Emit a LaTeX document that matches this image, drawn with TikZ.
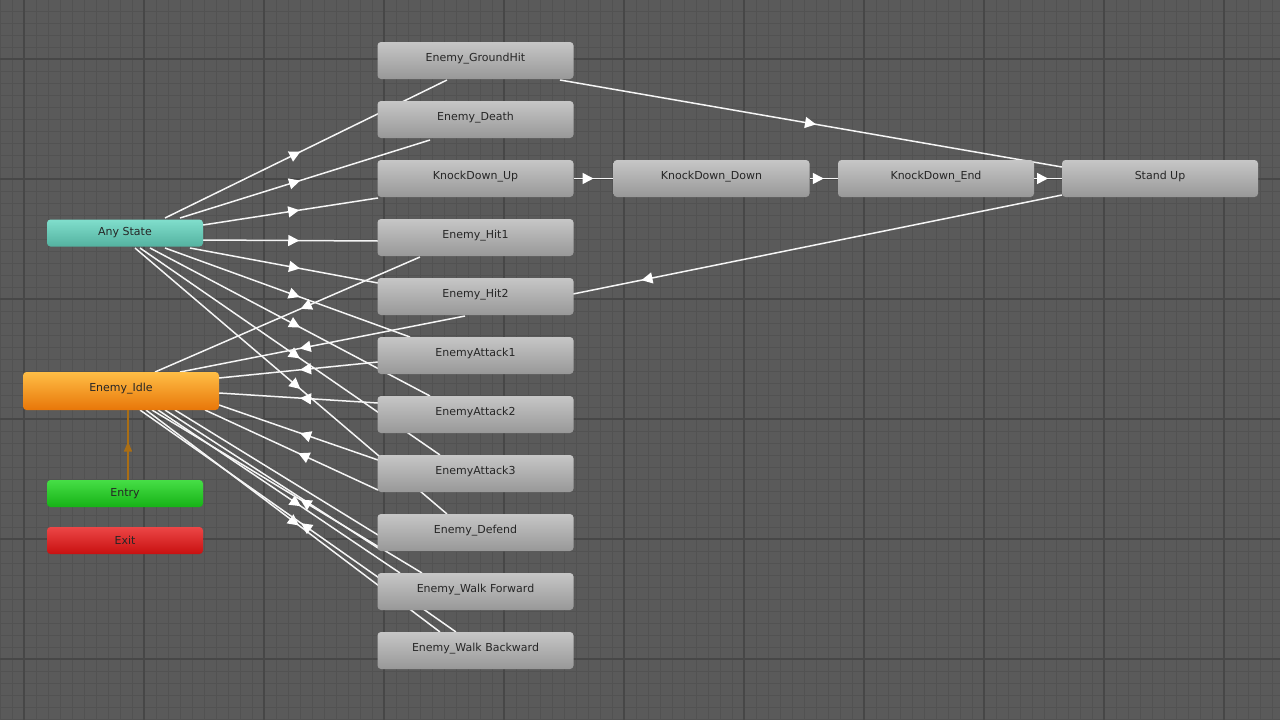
\documentclass[tikz,border=0pt]{standalone}
\usepackage{fontspec}
\setmainfont{DejaVu Sans}
\usetikzlibrary{arrows.meta,decorations.markings}
\definecolor{bg}{HTML}{5A5A5A}
\definecolor{minor}{HTML}{525252}
\definecolor{major}{HTML}{474747}
\definecolor{gtop}{HTML}{C6C6C6}
\definecolor{gbot}{HTML}{989898}
\definecolor{atop}{HTML}{80DECC}
\definecolor{abot}{HTML}{54B2A0}
\definecolor{itop}{HTML}{FFBE46}
\definecolor{ibot}{HTML}{E87608}
\definecolor{etop}{HTML}{46DE46}
\definecolor{ebot}{HTML}{16B216}
\definecolor{xtop}{HTML}{EC4646}
\definecolor{xbot}{HTML}{C81010}
\definecolor{brown}{HTML}{AA6E14}
\tikzset{
 st/.style={rounded corners=3.5pt,minimum width=196pt,minimum height=37pt,inner sep=0pt,font=\fontsize{11pt}{13pt}\selectfont,text=black!85},
 gs/.style={st,top color=gtop,bottom color=gbot},
 small/.style={st,minimum width=156pt,minimum height=27pt},
 ln/.style={draw=white!92!gray,line width=1.5pt},
 mid/.style={postaction=decorate,decoration={markings,mark=at position #1 with {\arrow[white]{Triangle[width=11pt,length=11pt]}}}},
}
\newcommand{\tx}[1]{\raisebox{7pt}{#1}}
\begin{document}
\begin{tikzpicture}[x=1pt,y=-1pt]
\fill[bg] (0,0) rectangle (1280,720);
\useasboundingbox (0,0) rectangle (1280,720);
\foreach \x in {0,12,...,1280} \draw[minor,line width=1pt] (\x,0) -- (\x,720);
\foreach \y in {-1,11,...,720} \draw[minor,line width=1pt] (0,\y) -- (1280,\y);
\foreach \x in {24,144,...,1280} \draw[major,line width=1.3pt] (\x,0) -- (\x,720);
\foreach \y in {59,179,...,720} \draw[major,line width=1.3pt] (0,\y) -- (1280,\y);

\coordinate (a1) at (165,218); \coordinate (a2) at (180,218); \coordinate (a3) at (203,225);
\coordinate (a4) at (203,240); \coordinate (a5) at (190,248); \coordinate (a6) at (165,248);
\coordinate (a7) at (150,248); \coordinate (a8) at (140,248); \coordinate (a9) at (135,248);
\coordinate (t1) at (447,80); \coordinate (t2) at (430,140); \coordinate (t3) at (378,198);
\coordinate (t4) at (378,241); \coordinate (t5) at (378,283); \coordinate (t6) at (410,337);
\coordinate (t7) at (430,396); \coordinate (t8) at (440,455); \coordinate (t9) at (447,514);
\coordinate (h1) at (420,257); \coordinate (i1) at (155,372);
\coordinate (h2) at (465,316); \coordinate (i2) at (180,372);
\coordinate (h3) at (378,362); \coordinate (i3) at (219,378);
\coordinate (h4) at (378,403); \coordinate (i4) at (219,393);
\coordinate (h5) at (378,460); \coordinate (i5) at (219,405);
\coordinate (h6) at (378,490); \coordinate (i6) at (205,410);
\coordinate (d1) at (378,535); \coordinate (j1) at (175,410);
\coordinate (d2) at (378,548); \coordinate (j2) at (165,410);
\coordinate (f1) at (400,573); \coordinate (k1) at (158,410);
\coordinate (f2) at (422,573); \coordinate (k2) at (152,410);
\coordinate (b1) at (440,632); \coordinate (m1) at (146,410);
\coordinate (b2) at (456,632); \coordinate (m2) at (140,410);
\coordinate (gh) at (560,80); \coordinate (su1) at (1062,167);
\coordinate (su2) at (1062,195); \coordinate (hh) at (573,294);

\draw[ln,mid=0.48] (a1) -- (t1);
\draw[ln,mid=0.48] (a2) -- (t2);
\draw[ln,mid=0.55] (a3) -- (t3);
\draw[ln,mid=0.55] (a4) -- (t4);
\draw[ln,mid=0.585] (a5) -- (t5);
\draw[ln,mid=0.55] (a6) -- (t6);
\draw[ln,mid=0.536] (a7) -- (t7);
\draw[ln,mid=0.533] (a8) -- (t8);
\draw[ln,mid=0.53] (a9) -- (t9);
\draw[ln,mid=0.45] (h1) -- (i1);
\draw[ln,mid=0.58] (h2) -- (i2);
\draw[ln,mid=0.49] (h3) -- (i3);
\draw[ln,mid=0.49] (h4) -- (i4);
\draw[ln,mid=0.49] (h5) -- (i5);
\draw[ln,mid=0.46] (h6) -- (i6);
\draw[ln] (j1) -- (d1);
\draw[ln] (d2) -- (j2);
\draw[ln,mid=0.59] (k1) -- (f1);
\draw[ln,mid=0.45] (f2) -- (k2);
\draw[ln,mid=0.52] (m1) -- (b1);
\draw[ln,mid=0.49] (b2) -- (m2);
\draw[ln,mid=0.51] (gh) -- (su1);
\draw[ln,mid=0.86] (su2) -- (hh);

\node[gs] (s1) at (475.5,60.5) {\tx{Enemy\_GroundHit}};
\node[gs] (s2) at (475.5,119.5) {\tx{Enemy\_Death}};
\node[gs] (s3) at (475.5,178.5) {\tx{KnockDown\_Up}};
\node[gs] (s4) at (475.5,237.5) {\tx{Enemy\_Hit1}};
\node[gs] (s5) at (475.5,296.5) {\tx{Enemy\_Hit2}};
\node[gs] (s6) at (475.5,355.5) {\tx{EnemyAttack1}};
\node[gs] (s7) at (475.5,414.5) {\tx{EnemyAttack2}};
\node[gs] (s8) at (475.5,473.5) {\tx{EnemyAttack3}};
\node[gs] (s9) at (475.5,532.5) {\tx{Enemy\_Defend}};
\node[gs] (s10) at (475.5,591.5) {\tx{Enemy\_Walk Forward}};
\node[gs] (s11) at (475.5,650.5) {\tx{Enemy\_Walk Backward}};
\node[gs] (kd) at (711.5,178.5) {\tx{KnockDown\_Down}};
\node[gs] (ke) at (936,178.5) {\tx{KnockDown\_End}};
\node[gs] (su) at (1160,178.5) {\tx{Stand Up}};

\node[small,top color=atop,bottom color=abot] (any) at (125,233) {Any State};
\node[st,minimum height=38pt,top color=itop,bottom color=ibot] (idle) at (121,391) {\tx{Enemy\_Idle}};
\node[small,top color=etop,bottom color=ebot] (entry) at (125,493.5) {Entry};
\node[small,top color=xtop,bottom color=xbot] (exit) at (125,540.5) {Exit};

\draw[draw=brown,line width=1.3pt,postaction=decorate,decoration={markings,mark=at position 0.55 with {\arrow[brown]{Triangle[width=8pt,length=10pt]}}}] ([xshift=3pt]entry.north) -- ([xshift=7pt]idle.south);
\draw[ln,mid=0.5] (s3.east) -- (kd.west);
\draw[ln,mid=0.5] (kd.east) -- (ke.west);
\draw[ln,mid=0.5] (ke.east) -- (su.west);
\end{tikzpicture}
\end{document}
